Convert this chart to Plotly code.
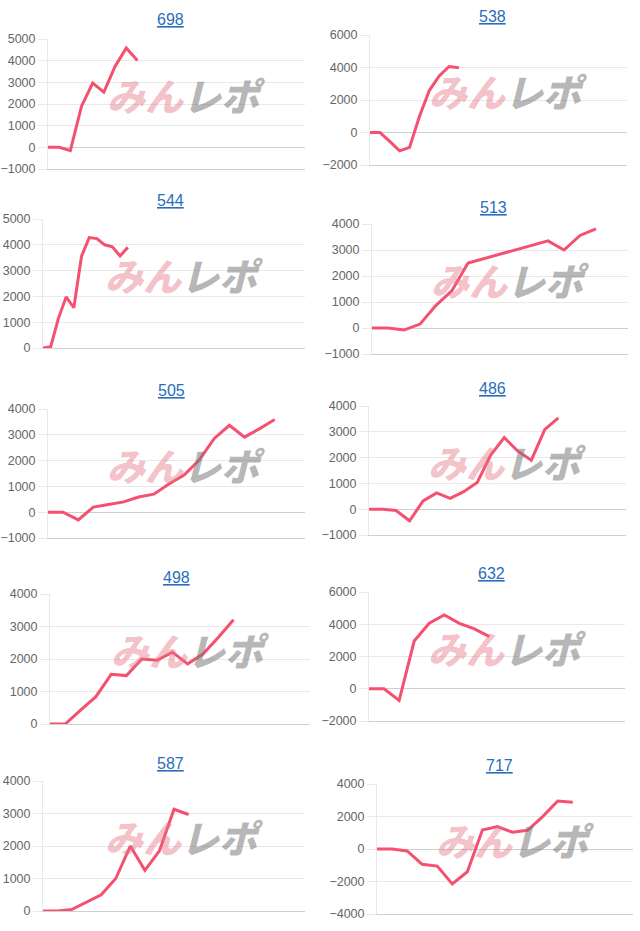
"""Ten small balance charts in a 2x5 grid, each with a linked title and a watermark."""
import plotly.graph_objects as go

W, H = 640, 931

# --------------------------------------------------------------------------- #
# Data (one series per machine number)
# --------------------------------------------------------------------------- #
titles = ["698", "538", "544", "513", "505", "486", "498", "632", "587", "717"]

s698 = [0, 0, -150, 1900, 2960, 2550, 3730, 4580, 4010]
s538 = [0, 0, -550, -1130, -920, 980, 2580, 3480, 4060, 3980]
s544 = [0, 50, 1150, 1980, 1560, 3560, 4280, 4240, 4000, 3920, 3570, 3900]
s513 = [0, 0, -80, 150, 870, 1440, 2500, 2670, 2830, 3000, 3180, 3350,
        3000, 3560, 3810]
s505 = [0, 0, -300, 200, 300, 400, 590, 700, 1090, 1440, 2020, 2860,
        3370, 2910, 3240, 3590]
s486 = [0, 0, -50, -450, 320, 630, 420, 680, 1040, 2100, 2780, 2250,
        1900, 3090, 3540]
s498 = [0, 0, 430, 840, 1530, 1490, 2000, 1960, 2210, 1850, 2150, 2660, 3210]
s632 = [0, 0, -730, 2960, 4060, 4580, 4060, 3710, 3230]
s587 = [0, 0, 50, 280, 500, 1000, 2000, 1250, 1850, 3130, 2970]
s717 = [0, 0, -120, -940, -1050, -2150, -1400, 1170, 1380, 1030, 1150,
        1990, 2950, 2870]

series = [s698, s538, s544, s513, s505, s486, s498, s632, s587, s717]

# number of day slots on each x axis (most days still empty)
day_slots = [24, 27, 35, 17, 18, 20, 18, 18, 19, 18]

y_ranges = [(-1000, 5000), (-2000, 6000), (0, 5000), (-1000, 4000),
            (-1000, 4000), (-1000, 4000), (0, 4000), (-2000, 6000),
            (0, 4000), (-4000, 4000)]
y_steps = [1000, 2000, 1000, 1000, 1000, 1000, 1000, 2000, 1000, 2000]

# --------------------------------------------------------------------------- #
# Panel boxes in pixels: left, right, top, bottom, title x, title y
# --------------------------------------------------------------------------- #
boxes = [
    (48, 305, 39, 169, 170, 20),
    (370, 627, 35, 165, 492, 17),
    (43, 305, 219, 348, 170, 200),
    (372, 628, 224, 354, 493, 207),
    (48, 305, 409, 538, 171, 390),
    (369, 626, 406, 535, 492, 388),
    (50, 310, 594, 724, 176, 577),
    (369, 625, 592, 721, 491, 573),
    (43, 305, 781, 911, 170, 763),
    (377, 633, 784, 914, 499, 765),
]

LINE = "#f5506f"
GRID = "#e9e9e9"
AXIS = "#cfcfcf"
TICK = "#666666"
LINK = "#2a6ebb"
FONT = "Liberation Sans, Arial, sans-serif"

fig = go.Figure()
annotations = []

for i, (name, ys) in enumerate(zip(titles, series)):
    n = i + 1
    xa = "x" if n == 1 else f"x{n}"
    ya = "y" if n == 1 else f"y{n}"
    left, right, top, bottom, tx, ty = boxes[i]
    lo, hi = y_ranges[i]

    fig.add_trace(go.Scatter(
        x=list(range(len(ys))), y=ys, mode="lines",
        line=dict(color=LINE, width=3), xaxis=xa, yaxis=ya,
        hoverinfo="skip", showlegend=False,
    ))

    fig.update_layout({
        f"xaxis{'' if n == 1 else n}": dict(
            domain=[left / W, right / W], anchor=ya,
            range=[0, day_slots[i] - 1], showticklabels=False,
            showgrid=False, zeroline=False, showline=True,
            linecolor=AXIS, linewidth=1, fixedrange=True,
            automargin=False,
        ),
        f"yaxis{'' if n == 1 else n}": dict(
            domain=[1 - bottom / H, 1 - top / H], anchor=xa,
            range=[lo, hi], tickvals=list(range(lo, hi + 1, y_steps[i])),
            showgrid=True, gridcolor=GRID, gridwidth=1,
            zeroline=True, zerolinecolor=AXIS, zerolinewidth=1,
            showline=True, linecolor=GRID, linewidth=1,
            ticks="outside", ticklen=9, tickcolor=GRID,
            tickfont=dict(family=FONT, size=12.5, color=TICK),
            fixedrange=True, automargin=False,
        ),
    })

    # linked title
    annotations.append(dict(
        xref="paper", yref="paper", x=tx / W, y=1 - ty / H,
        text=f"<u>{name}</u>", showarrow=False,
        font=dict(family=FONT, size=16, color=LINK),
        xanchor="center", yanchor="middle",
    ))

    # site watermark
    annotations.append(dict(
        xref="paper", yref="paper",
        x=(left + (right - left) * 0.54) / W,
        y=1 - (top + (bottom - top) * 0.43) / H,
        text=("<i><span style='color:rgba(228,120,132,0.45)'>みん</span>"
              "<span style='color:rgba(120,120,120,0.55)'>レポ</span></i>"),
        showarrow=False, xanchor="center", yanchor="middle",
        font=dict(family="Noto Sans CJK JP", size=38, weight=900),
    ))

fig.update_layout(
    width=W, height=H,
    margin=dict(l=0, r=0, t=0, b=0, autoexpand=False),
    paper_bgcolor="white", plot_bgcolor="white",
    annotations=annotations,
)

fig.write_html(
    "out.html",
    config={"displayModeBar": False},
    post_script="document.body.style.margin='0';document.body.style.overflow='hidden';",
)
